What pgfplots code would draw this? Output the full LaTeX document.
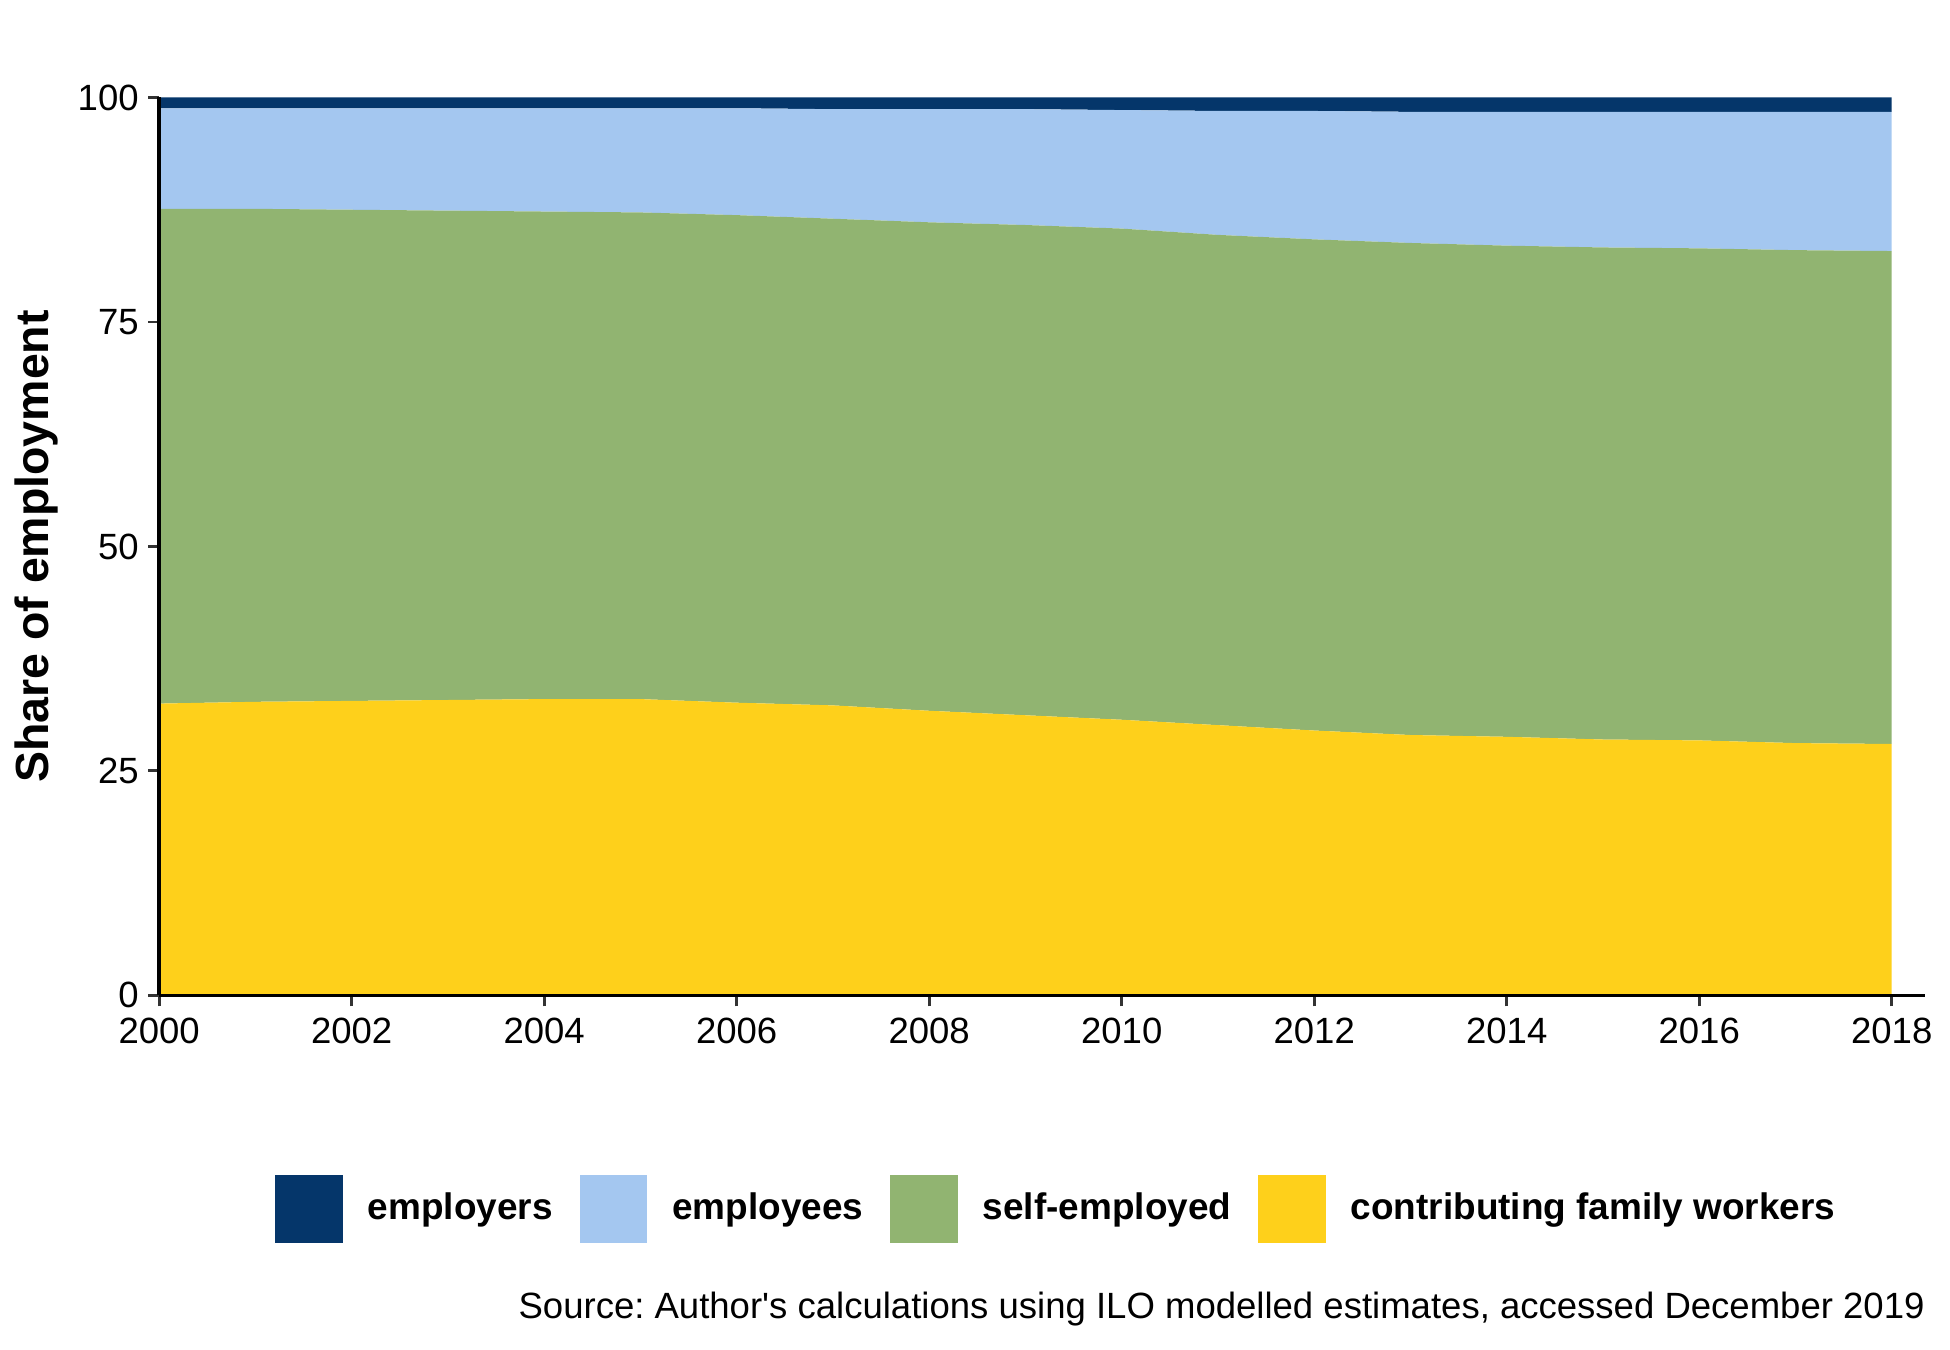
\documentclass[border=0pt]{standalone}
\usepackage{fontspec}
\setmainfont{Liberation Sans}
\usepackage{pgfplots}
\usepackage{pgfplotstable}
\pgfplotsset{compat=1.18}
\definecolor{cErs}{RGB}{5,54,106}
\definecolor{cEes}{RGB}{164,199,240}
\definecolor{cSe}{RGB}{145,180,113}
\definecolor{cCfw}{RGB}{254,208,27}

\pgfplotstableread{
year cfw se ees ers
2000 32.5 55.1 11.2 1.2
2001 32.7 54.9 11.2 1.2
2002 32.8 54.7 11.3 1.2
2003 32.9 54.5 11.4 1.2
2004 33.0 54.3 11.5 1.2
2005 33.0 54.2 11.6 1.2
2006 32.6 54.3 11.9 1.2
2007 32.3 54.2 12.2 1.3
2008 31.7 54.4 12.6 1.3
2009 31.2 54.6 12.9 1.3
2010 30.7 54.7 13.2 1.4
2011 30.1 54.6 13.8 1.5
2012 29.5 54.7 14.3 1.5
2013 29.0 54.8 14.6 1.6
2014 28.8 54.7 14.9 1.6
2015 28.5 54.8 15.1 1.6
2016 28.4 54.8 15.2 1.6
2017 28.1 54.9 15.4 1.6
2018 28.0 54.9 15.5 1.6
}\datatable

\begin{document}
\frenchspacing
\begin{tikzpicture}
\useasboundingbox (-38.2bp,-85.1bp) rectangle (429.8bp,238.9bp);
\begin{axis}[
  at={(0,0)}, anchor=south west,
  scale only axis, width=423.9bp, height=215.5bp,
  xmin=2000, xmax=2018.35, ymin=0, ymax=100,
  stack plots=y,
  axis on top,
  axis lines=left,
  axis line style={-, line width=0.9bp, black},
  xtick={2000,2002,...,2018},
  ytick={0,25,50,75,100},
  tick align=outside,
  major tick length=2.6bp,
  tick style={line width=0.7bp, color=black!80},
  /pgf/number format/assume math mode=true,
  ticklabel style={font=\fontsize{8.8}{10}\selectfont, black},
  x tick label style={/pgf/number format/1000 sep={}, yshift=0.6bp},
  y tick label style={xshift=1.2bp},
  ylabel={\fontsize{11.2}{13}\selectfont\bfseries Share of employment},
  every axis y label/.style={at={(axis description cs:-0.0694,0.5)}, rotate=90, anchor=center},
  legend columns=4,
  reverse legend,
  legend image code/.code={\fill[#1,draw=none] (0bp,-8.1bp) rectangle (16.2bp,8.1bp);},
  legend style={draw=none, fill=none, at={(axis description cs:0.5074,-0.238)}, anchor=center,
    inner sep=0pt, nodes={inner sep=0pt, font=\fontsize{8.9}{10}\selectfont\bfseries},
    /tikz/every odd column/.append style={column sep=6bp},
    /tikz/every even column/.append style={column sep=6.5bp}},
]
\addplot[fill=cCfw, draw=none] table[x=year, y=cfw] {\datatable} \closedcycle;
\addlegendentry{contributing family workers}
\addplot[fill=cSe, draw=none] table[x=year, y=se] {\datatable} \closedcycle;
\addlegendentry{self-employed}
\addplot[fill=cEes, draw=none] table[x=year, y=ees] {\datatable} \closedcycle;
\addlegendentry{employees}
\addplot[fill=cErs, draw=none] table[x=year, y=ers] {\datatable} \closedcycle;
\addlegendentry{employers}
\end{axis}
\node[anchor=east, inner sep=0pt, font=\fontsize{8.8}{10}\selectfont] at (423.9bp,-75.2bp) {Source: Author\textquotesingle s calculations using ILO modelled estimates, accessed December 2019};
\end{tikzpicture}
\end{document}
